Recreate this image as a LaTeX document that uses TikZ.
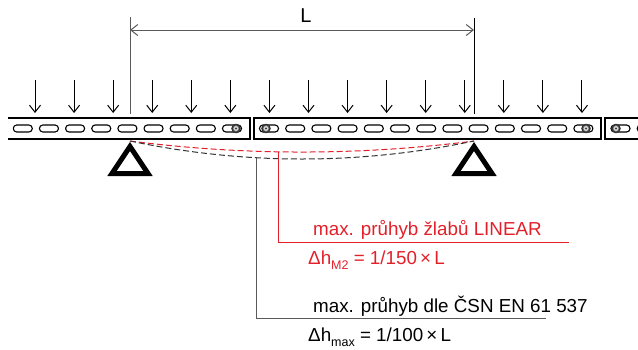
\documentclass[tikz,border=0pt]{standalone}
\usepackage{fontspec}
\setmainfont{Liberation Sans}
\usetikzlibrary{arrows.meta}
\definecolor{lred}{HTML}{E3202A}
\definecolor{dimgrey}{HTML}{5A5A5A}
\tikzset{
  beam/.style={line width=2.2pt, black},
  slot/.style={line width=1.1pt, black, rounded corners=3.4pt},
  load/.style={line width=1pt, -{Straight Barb[length=7pt,width=11pt]}},
  dimline/.style={line width=1pt, dimgrey},
  support/.style={line width=5pt, line join=miter},
  sagred/.style={line width=1pt, lred, dash pattern=on 6pt off 3pt},
  sagblack/.style={line width=1pt, black!80, dash pattern=on 6pt off 3pt},
  leadred/.style={line width=1pt, lred},
  leadblack/.style={line width=1pt, dimgrey},
  lbl/.style={inner sep=0pt, anchor=base west, font=\fontsize{18.8}{22}\selectfont},
}
\newcommand{\sbs}[1]{\raisebox{-5pt}{\fontsize{12.5}{14}\selectfont #1}}
\newcommand{\bolt}[1]{%
  \fill[black!80] (#1) circle (4.8pt);
  \fill[gray!30] (#1) circle (2.9pt);
  \draw[line width=0.5pt, black!60] (#1) circle (2.9pt);
  \fill[black!75] (#1) circle (1.2pt);}
\begin{document}
\begin{tikzpicture}[x=1pt,y=-1pt]
\useasboundingbox (0,0) rectangle (638,349);
\begin{scope}
\clip (0,0) rectangle (638,349);
% beams
\draw[beam] (8,118) -- (250,118) -- (250,139) -- (8,139);
\draw[beam] (254,118) rectangle (601,139);
\draw[beam] (642,118) -- (605,118) -- (605,139) -- (642,139);
% slots
\foreach \k in {0,...,8} {
  \draw[slot] ({22.8+26.15*\k-9.5},125) rectangle ++(19,7);
}
\foreach \k in {0,...,12} {
  \draw[slot] ({269+26.2*\k-9.5},125) rectangle ++(19,7);
}
\foreach \k in {0,1} {
  \draw[slot] ({620.5+26.2*\k-9.5},125) rectangle ++(19,7);
}
\bolt{236,128.5}
\bolt{266,128.5}
\bolt{586,128.5}
\bolt{616,128.5}
% loads
\foreach \k in {0,...,14} {
  \coordinate (lt\k) at ({35+39.07*\k},80);
  \coordinate (lb\k) at ({35+39.07*\k},113);
  \draw[load] (lt\k) -- (lb\k);
}
% dimension
\coordinate (dlt) at (130,17);
\coordinate (dlb) at (130,114);
\coordinate (drt) at (474,18);
\coordinate (drb) at (474,114);
\coordinate (dl) at (130,30);
\coordinate (dr) at (474,30);
\draw[dimline] (dlt) -- (dlb);
\draw[line width=1pt, black] (drt) -- (drb);
\draw[dimline, {Straight Barb[length=7pt,width=11pt]}-{Straight Barb[length=7pt,width=11pt]}] (dl) -- (dr);
\node[inner sep=0pt, anchor=base, font=\fontsize{20}{24}\selectfont] (L) at (306,22.7) {L};
% sag curves
\coordinate (sa) at (130,141);
\coordinate (sb) at (474,141);
\draw[sagred] (sa) .. controls (244.7,155.7) and (359.3,155.7) .. (sb);
\draw[sagblack] (sa) .. controls (244.7,165) and (359.3,165) .. (sb);
% supports
\node[inner sep=0pt] (s1) at (130,163) {};
\node[inner sep=0pt] (s2) at (474,163) {};
\draw[support] (130,146.5) -- (148,173.5) -- (112,173.5) -- cycle;
\draw[support] (474,146.5) -- (492,173.5) -- (456,173.5) -- cycle;
% leaders
\coordinate (rr0) at (278,151.8);
\coordinate (rr1) at (278,242);
\coordinate (rr2) at (569,242);
\coordinate (bb0) at (256,157.7);
\coordinate (bb1) at (256,318);
\coordinate (bb2) at (546,318);
\draw[leadred] (rr0) -- (rr1) -- (rr2);
\draw[leadblack] (bb0) -- (bb1) -- (bb2);
\end{scope}
% texts
\node[lbl, text=lred] (t1) at (313,235) {max. průhyb žlabů LINEAR};
\node[lbl, text=lred] (t2) at (308,264) {Δh\sbs{M2} = 1/150\,×\,L};
\node[lbl] (t3) at (313,312) {max. průhyb dle ČSN EN 61 537};
\node[lbl] (t4) at (308,341) {Δh\sbs{max} = 1/100\,×\,L};
\end{tikzpicture}
\end{document}
